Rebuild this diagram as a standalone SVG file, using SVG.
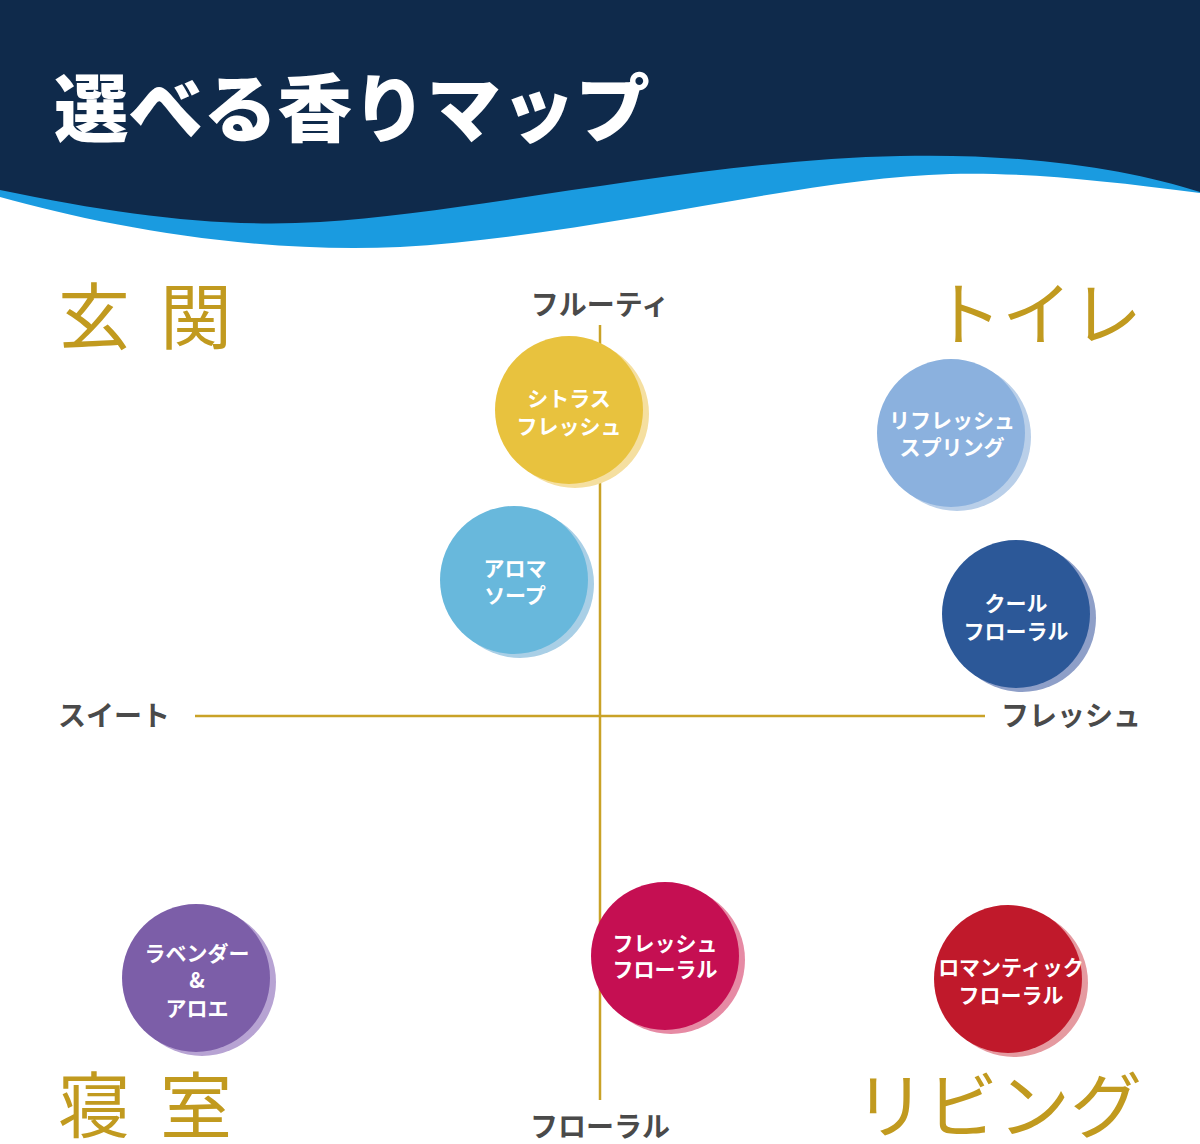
<svg xmlns="http://www.w3.org/2000/svg" width="1200" height="1144" viewBox="0 0 1200 1144">
<style>
.title{font-family:"Noto Sans CJK JP","Noto Sans",sans-serif;font-weight:900;font-size:74px;fill:#ffffff}
.room{font-family:"Noto Sans CJK JP","Noto Sans",sans-serif;font-weight:400;fill:#c19a1f}
.axis{font-family:"Noto Sans CJK JP","Noto Sans",sans-serif;font-weight:700;font-size:28px;fill:#4a4a4a}
.lbl{font-family:"Noto Sans CJK JP","Noto Sans",sans-serif;font-weight:700;font-size:21px;fill:#ffffff;text-anchor:middle}
.line{stroke:#c9a227;stroke-width:2.5;fill:none}
</style>
<rect width="1200" height="1144" fill="#ffffff"/>
<g id="header">
<path d="M0,0 H1200 V193 C1100,180 1020,172 950,174 C800,178 600,235 400,247 C250,254 100,225 0,197 Z" fill="#1a9be0"/>
<path d="M0,0 H1200 V192 C1130,170 1030,153 900,156 C700,160 480,212 320,222 C220,228 120,215 0,190 Z" fill="#0f2a4b"/>
<text class="title" x="54" y="136" textLength="596" lengthAdjust="spacingAndGlyphs">選べる香りマップ</text>
</g>
<g id="connectors">
<line class="line" x1="600" y1="325" x2="600" y2="1100"/>
<line class="line" x1="195" y1="716" x2="985" y2="716"/>
</g>
<g id="axis-labels">
<text class="axis" x="600" y="315" text-anchor="middle">フルーティ</text>
<text class="axis" x="58" y="726">スイート</text>
<text class="axis" x="1141" y="726" text-anchor="end">フレッシュ</text>
<text class="axis" x="600" y="1137" text-anchor="middle">フローラル</text>
</g>
<g id="rooms">
<text class="room" x="58" y="343" font-size="72" letter-spacing="30">玄関</text>
<text class="room" x="1142" y="340" font-size="70" text-anchor="end">トイレ</text>
<text class="room" x="58" y="1132" font-size="72" letter-spacing="30">寝室</text>
<text class="room" x="1142" y="1132" font-size="72" text-anchor="end">リビング</text>
</g>
<g id="node-citrus">
<circle cx="575" cy="414" r="74" fill="#f5dfa0"/>
<circle cx="569" cy="410" r="74" fill="#e8c23e"/>
<text class="lbl" x="569" y="406">シトラス</text>
<text class="lbl" x="569" y="434">フレッシュ</text>
</g>
<g id="node-aroma">
<circle cx="520" cy="584" r="74" fill="#a9cfe6"/>
<circle cx="514" cy="580" r="74" fill="#68b8dc"/>
<text class="lbl" x="515" y="576">アロマ</text>
<text class="lbl" x="515" y="603">ソープ</text>
</g>
<g id="node-refresh-spring">
<circle cx="957" cy="437" r="74" fill="#b9cfe9"/>
<circle cx="951" cy="433" r="74" fill="#8bb1de"/>
<text class="lbl" x="952" y="428">リフレッシュ</text>
<text class="lbl" x="952" y="455">スプリング</text>
</g>
<g id="node-cool-floral">
<circle cx="1022" cy="618" r="74" fill="#8e9fc8"/>
<circle cx="1016" cy="614" r="74" fill="#2c5898"/>
<text class="lbl" x="1016" y="611">クール</text>
<text class="lbl" x="1016" y="639">フローラル</text>
</g>
<g id="node-fresh-floral">
<circle cx="671" cy="960" r="74" fill="#e68aa4"/>
<circle cx="665" cy="956" r="74" fill="#c50f52"/>
<text class="lbl" x="665" y="951">フレッシュ</text>
<text class="lbl" x="665" y="977">フローラル</text>
</g>
<g id="node-lavender">
<circle cx="202" cy="982" r="74" fill="#b7a3d3"/>
<circle cx="196" cy="978" r="74" fill="#7c5ea8"/>
<text class="lbl" x="197" y="961">ラベンダー</text>
<text class="lbl" x="197" y="988">&amp;</text>
<text class="lbl" x="197" y="1016">アロエ</text>
</g>
<g id="node-romantic">
<circle cx="1014" cy="983" r="74" fill="#e59aa0"/>
<circle cx="1008" cy="979" r="74" fill="#c0192b"/>
<text class="lbl" x="1011" y="975" font-size="19">ロマンティック</text>
<text class="lbl" x="1011" y="1003">フローラル</text>
</g>
</svg>
